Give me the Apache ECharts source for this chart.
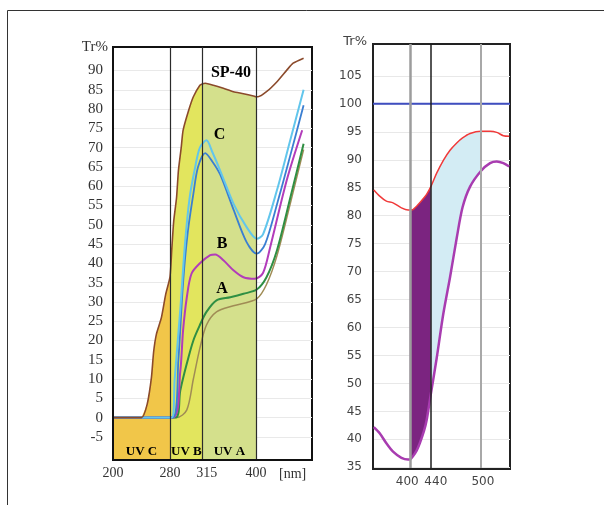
<!DOCTYPE html>
<html><head><meta charset="utf-8">
<script src="https://cdn.jsdelivr.net/npm/echarts@6/dist/echarts.min.js"></script>
<style>html,body{margin:0;padding:0;background:#fff}#c{width:604px;height:505px}</style>
</head><body><div id="c"></div>
<script>
// ---------- Left chart: wavelength (nm) vs transmittance (%) ----------
const leftTicksX = [200, 280, 315, 400];
const leftTicksY = [-5, 0, 5, 10, 15, 20, 25, 30, 35, 40, 45, 50, 55, 60, 65, 70, 75, 80, 85, 90];
const uvBands = [['UV C', 200, 280], ['UV B', 280, 315], ['UV A', 315, 400]];
const sp40 = [[200,0],[240,0],[248,3.5],[254,10.5],[257,17],[261,21.7],[268,26],[274,32],[280,36.5],[282,44],[284,51],[287,57],[289,64],[292,70],[294,74.5],[300,79.7],[305,83.2],[312,86.2],[315,86.6],[319,86.7],[332,86.2],[348,85.4],[364,84.5],[380,84],[396,83.4],[400,83.2],[403,83.2],[415,84.5],[430,87.1],[444,90.1],[453,91.9],[468,93.2]];
const curveC1 = [[200,0],[282,0],[285,10],[291,28],[296,45],[301,57],[307,65],[312,70],[321,71.9],[330,69],[343,64],[364,55.5],[385,49.4],[401,46.4],[410,47.5],[430,59],[449,72],[468,85]];
const curveC2 = [[200,0],[283,0],[289,15],[294,35],[299,48],[305,58],[310,65],[319,68.6],[330,66.5],[343,63],[364,54],[385,45.5],[401,42.5],[413,45],[431,56],[449,68],[468,81]];
const curveB = [[200,0],[283,0],[291,12],[294,22.6],[298,31.2],[303,37.3],[312,40],[327,42.1],[335,42.3],[348,40.8],[364,38.2],[380,36.4],[398,36],[410,37.5],[420,44],[444,61.6],[466,74.5]];
const curveA1 = [[200,0],[286,0],[291,7],[298,14],[305,20],[312,24],[321,27.4],[337,30.4],[359,31.2],[380,32.1],[401,33.2],[415,36.4],[430,43.4],[449,57],[468,71]];
const curveA2 = [[200,0],[287,0],[298,2],[305,10],[312,18],[321,24],[337,27.4],[364,29],[401,30.8],[415,34.5],[430,42],[449,55.5],[468,69.5]];
const leftNotes = [['SP-40', 360, 89.4], ['C', 342, 73.3], ['B', 346, 45], ['A', 346, 33.3]];

// ---------- Right chart ----------
const rightTicksX = [400, 440, 500];
const rightTicksY = [35, 40, 45, 50, 55, 60, 65, 70, 75, 80, 85, 90, 95, 100, 105];
const rightWave = [357,364,372,380,390,398,400,406,413,419,427,432,440,447,455,463,471,478,487,500,511,519,527,534];
const redTr = [84.6,83.5,82.6,82.3,81.4,81.0,81.0,81.1,81.7,82.3,83.2,83.8,85.2,87.6,89.9,91.7,93.0,93.9,94.7,95.1,95.1,94.9,94.3,94.2];
const purpleTr = [42.2,41.1,39.3,37.8,36.7,36.4,36.4,37.0,38.0,39.3,41.5,43.4,48.1,54.5,62.5,69.0,76.0,81.5,85.2,88.0,89.4,89.7,89.4,88.8];
const fillBands = [[400, 440], [440, 500]];
const referenceLine = 100;

// ---------- axis scale breaks (the source figure's wavelength axis is piecewise) ----------
const L_NM = [200, 280, 315, 400, 480], L_U = [0, 57, 89.7, 143, 199];
const R_NM = [356, 400, 440, 500, 535], R_U = [0, 36.7, 57.7, 107.7, 136.7];
function makeMap(a, b) {
  return function (v) {
    for (let i = 0; i < a.length - 1; i++) {
      if (v <= a[i + 1] || i === a.length - 2) return b[i] + (v - a[i]) * (b[i + 1] - b[i]) / (a[i + 1] - a[i]);
    }
  };
}
const toL = makeMap(L_NM, L_U);
const toR = makeMap(R_NM, R_U);
const mapL = arr => arr.map(p => [toL(p[0]), p[1]]);

const uvColors = ['#f1c649', '#e2e55e', '#d4e08c'];
const curveStyles = [
  [curveA2, '#a08c55', 1.5],
  [curveA1, '#2f8f43', 2],
  [curveB, '#b23cba', 2],
  [curveC2, '#3a7fd2', 1.8],
  [curveC1, '#62c6ec', 2]
];
const bandColors = ['#7b2480', '#d3ecf4'];

const serif = 'Liberation Serif';
const sans = 'DejaVu Sans';

const labelShiftL = {200: 0, 280: 0, 315: 8, 400: 0};
const labelShiftR = {400: -5, 440: 10, 500: 4};
function richFor(shifts, font, size, color) {
  const r = {};
  Object.keys(shifts).forEach(k => {
    const s = shifts[k];
    r['t' + k] = {fontFamily: font, fontSize: size, color: color,
      padding: s >= 0 ? [0, 0, 0, s] : [0, -s, 0, 0]};
  });
  return r;
}

function noteSeries(items, size) {
  return {type: 'scatter', xAxisIndex: 0, yAxisIndex: 0, z: 6, silent: true,
    symbolSize: 0, itemStyle: {color: '#000', opacity: 1},
    data: items,
    label: {show: true, position: [0, 0], align: 'center', verticalAlign: 'middle',
      formatter: p => p.name, textBorderWidth: 0,
      fontFamily: serif, fontWeight: 'bold', fontSize: size, color: '#000'}};
}

const series = [];
uvBands.forEach((b, i) => {
  series.push({
    type: 'line', xAxisIndex: 0, yAxisIndex: 0, silent: true, z: 1,
    data: mapL(sp40.filter(p => p[0] >= b[1] && p[0] <= b[2])),
    showSymbol: false, symbol: 'none', lineStyle: {width: 0},
    areaStyle: {color: uvColors[i], opacity: 1, origin: 'start'}
  });
});
series.push({
  type: 'line', xAxisIndex: 0, yAxisIndex: 0, silent: true, z: 2, data: [],
  markLine: {silent: true, symbol: ['none', 'none'], label: {show: false}, animation: false,
    lineStyle: {color: '#2b2b2b', width: 1.2, type: 'solid'},
    data: [{xAxis: toL(280)}, {xAxis: toL(315)}, {xAxis: toL(400)}]}
});
curveStyles.forEach(c => {
  series.push({type: 'line', xAxisIndex: 0, yAxisIndex: 0, z: 3, silent: true,
    data: mapL(c[0]), showSymbol: false, symbol: 'none', smooth: 0.3,
    lineStyle: {color: c[1], width: c[2]}});
});
series.push({type: 'line', xAxisIndex: 0, yAxisIndex: 0, z: 4, silent: true,
  data: mapL(sp40), showSymbol: false, symbol: 'none', smooth: 0.2,
  lineStyle: {color: '#8b4a2b', width: 1.6}});
series.push(noteSeries(leftNotes.map(n => ({name: n[0], value: [toL(n[1]), n[2]]})), 16));
series.push(noteSeries(uvBands.map(b => ({name: b[0], value: [toL((b[1] + b[2]) / 2), -8.9]})), 13));

// ---- right chart series ----
series.push({
  type: 'custom', xAxisIndex: 1, yAxisIndex: 1, z: 1, silent: true,
  data: fillBands.map(b => [toR(b[0]), 60]),
  renderItem: function (params, api) {
    const band = fillBands[params.dataIndex];
    const idx = rightWave.map((w, i) => i).filter(i => rightWave[i] >= band[0] && rightWave[i] <= band[1]);
    const top = idx.map(i => api.coord([toR(rightWave[i]), redTr[i]]));
    const bot = idx.slice().reverse().map(i => api.coord([toR(rightWave[i]), purpleTr[i]]));
    return {type: 'polygon', shape: {points: top.concat(bot)}, style: {fill: bandColors[params.dataIndex]}};
  }
});
series.push({type: 'line', xAxisIndex: 1, yAxisIndex: 1, z: 2, silent: true, data: [],
  markLine: {silent: true, symbol: ['none', 'none'], label: {show: false}, animation: false,
    data: [
      {xAxis: toR(400), lineStyle: {color: '#9c9c9c', width: 2.5, type: 'solid'}},
      {xAxis: toR(440), lineStyle: {color: '#1e1e1e', width: 1.5, type: 'solid'}},
      {xAxis: toR(500), lineStyle: {color: '#a8a8a8', width: 2, type: 'solid'}}
    ]}});
series.push({type: 'line', xAxisIndex: 1, yAxisIndex: 1, z: 3, silent: true,
  data: [[toR(R_NM[0]), referenceLine], [toR(R_NM[R_NM.length - 1]), referenceLine]],
  showSymbol: false, symbol: 'none', lineStyle: {color: '#3f4ec0', width: 2}});
series.push({type: 'line', xAxisIndex: 1, yAxisIndex: 1, z: 3, silent: true,
  data: rightWave.map((w, i) => [toR(w), redTr[i]]), showSymbol: false, symbol: 'none', smooth: 0.3,
  lineStyle: {color: '#f03a3a', width: 1.5}});
series.push({type: 'line', xAxisIndex: 1, yAxisIndex: 1, z: 3, silent: true,
  data: rightWave.map((w, i) => [toR(w), purpleTr[i]]), showSymbol: false, symbol: 'none', smooth: 0.3,
  lineStyle: {color: '#a83cb0', width: 2.5}});

function findTick(ticks, mapFn, v) {
  let best = ticks[0];
  ticks.forEach(t => { if (Math.abs(mapFn(t) - v) < Math.abs(mapFn(best) - v)) best = t; });
  return best;
}

const hidden = {axisTick: {show: false}, axisLabel: {show: false}, splitLine: {show: false}};

const option = {
  backgroundColor: '#ffffff',
  animation: false,
  graphic: [{type: 'rect', shape: {x: 7.5, y: 10.5, width: 700, height: 600},
    style: {fill: 'none', stroke: '#333', lineWidth: 1}, silent: true, z: 0}],
  grid: [
    {left: 113, top: 47, width: 199, height: 413, show: true, borderColor: '#111', borderWidth: 2, backgroundColor: 'transparent'},
    {left: 373, top: 44, width: 137, height: 425, show: true, borderColor: '#222', borderWidth: 2, backgroundColor: 'transparent'}
  ],
  xAxis: [
    {gridIndex: 0, type: 'value', min: 0, max: 199,
      axisLine: {show: false, onZero: false},
      axisTick: {show: false, customValues: leftTicksX.map(toL)},
      splitLine: {show: false},
      axisLabel: {customValues: leftTicksX.map(toL), showMinLabel: true, showMaxLabel: true, margin: 6,
        fontFamily: serif, fontSize: 14, color: '#333',
        formatter: v => { const t = findTick(leftTicksX, toL, v); return '{t' + t + '|' + t + '}'; },
        rich: richFor(labelShiftL, serif, 14, '#333')},
      name: '[nm]', nameLocation: 'end', nameGap: -33,
      nameTextStyle: {fontFamily: serif, fontSize: 14, color: '#333', align: 'left', verticalAlign: 'top', padding: [7, 0, 0, 0]}},
    {gridIndex: 1, type: 'value', min: 0, max: 136.7, z: 10,
      axisLine: {show: true, onZero: false, lineStyle: {color: '#222', width: 2}},
      axisTick: {show: false, customValues: rightTicksX.map(toR)},
      splitLine: {show: false},
      axisLabel: {customValues: rightTicksX.map(toR), margin: 7,
        fontFamily: sans, fontSize: 12, color: '#444',
        formatter: v => { const t = findTick(rightTicksX, toR, v); return '{t' + t + '|' + t + '}'; },
        rich: richFor(labelShiftR, sans, 12, '#444')}},
    Object.assign({gridIndex: 0, type: 'value', min: 0, max: 199, z: 10, position: 'bottom',
      axisLine: {show: true, onZero: false, lineStyle: {color: '#111', width: 2}}}, hidden)
  ],
  yAxis: [
    {gridIndex: 0, type: 'value', min: -11, max: 96.1,
      axisLine: {show: false, onZero: false},
      axisTick: {show: false, customValues: leftTicksY},
      splitLine: {show: true, lineStyle: {color: '#e9e9e9', width: 1}},
      axisLabel: {customValues: leftTicksY, margin: 10, fontFamily: serif, fontSize: 15, color: '#333'},
      name: 'Tr%', nameLocation: 'end', nameGap: 0,
      nameTextStyle: {fontFamily: serif, fontSize: 15, color: '#333', align: 'right', verticalAlign: 'middle', padding: [0, 5, 0, 0]}},
    {gridIndex: 1, type: 'value', min: 34.7, max: 110.7,
      axisLine: {show: true, onZero: false, lineStyle: {color: '#222', width: 2}},
      axisTick: {show: false, customValues: rightTicksY},
      splitLine: {show: true, lineStyle: {color: '#e8e8e8', width: 1}},
      axisLabel: {customValues: rightTicksY, margin: 11, fontFamily: sans, fontSize: 12, color: '#444'},
      name: 'Tr%', nameLocation: 'end', nameGap: 2,
      nameTextStyle: {fontFamily: sans, fontSize: 13, color: '#444', align: 'right', verticalAlign: 'middle', padding: [0, 6, 0, 0]}},
    Object.assign({gridIndex: 0, type: 'value', min: -11, max: 96.1, z: 10, position: 'left',
      axisLine: {show: true, onZero: false, lineStyle: {color: '#111', width: 2}}}, hidden)
  ],
  series: series
};
const chart = echarts.init(document.getElementById('c'), null, {renderer: 'canvas'});
chart.setOption(option);
</script></body></html>
